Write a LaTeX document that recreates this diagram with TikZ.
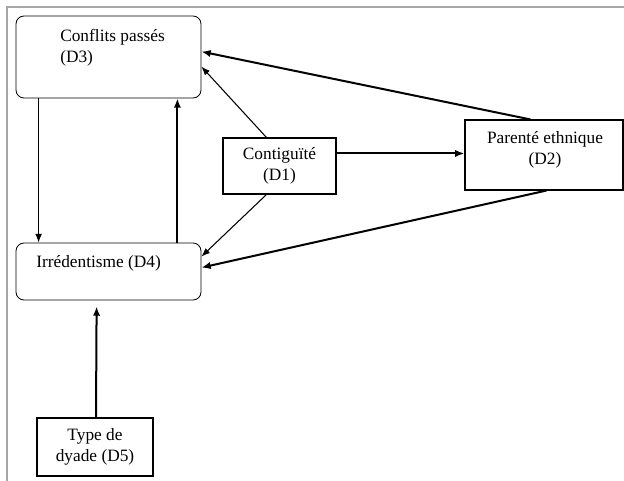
\documentclass[tikz,border=0pt]{standalone}
\usepackage{fontspec}
\newfontfamily\diagfont{Liberation Serif}
\usetikzlibrary{arrows.meta,calc,positioning}

\tikzset{
  roundbox/.style={draw,rounded corners=6pt,line width=0.6pt,inner sep=0pt},
  plainbox/.style={draw,line width=0.8pt,inner sep=0pt},
  thin arr/.style={-{Latex[length=6.5pt,width=5pt]},line width=0.8pt},
  thick arr/.style={-{Latex[length=7pt,width=5.5pt]},line width=1.5pt},
  boxtext/.style={inner sep=0pt,align=left}
}

\begin{document}
\begin{tikzpicture}[x=0.75pt,y=-0.75pt,font=\diagfont\fontsize{13}{15.75}\selectfont]
\useasboundingbox (0,0) rectangle (624,481);
\draw[gray!70,line width=1.5pt] (7,481) -- (7,7) -- (624,7);
% boxes
\node[roundbox,minimum width=138.75pt,minimum height=61.5pt] (d3) at (108.5,57) {};
\node[roundbox,minimum width=138.75pt,minimum height=42.75pt] (d4) at (108.5,271.5) {};
\node[plainbox,minimum width=84.75pt,minimum height=42pt,align=center] (d1) at (279.5,166) {Contiguïté\\(D1)};
\node[plainbox,minimum width=118.5pt,minimum height=52.5pt] (d2) at (544,155) {};
\node[plainbox,line width=1.5pt,minimum width=87pt,minimum height=43.5pt,align=center] (d5) at (95,447) {Type de\\dyade (D5)};
% texts
\node[boxtext,anchor=west] (d3txt) at (60,47.5) {Conflits passés\\(D3)};
\node[boxtext,anchor=west] (d4txt) at (36,263) {Irrédentisme (D4)};
\node[boxtext,align=center] (d2txt) at (545,149.5) {Parenté ethnique\\(D2)};
% links
\path
  ($(d3.south west)+(23,0)$) edge[thin arr] ($(d4.north west)+(23,0)$)
  ($(d4.north east)+(-24,0)$) edge[thick arr] ($(d3.south east)+(-24,0)$)
  ($(d1.north west)+(44,0)$) edge[thin arr] ($(d3.north east)+(0,51)$)
  ($(d1.south west)+(44,0)$) edge[thin arr] ($(d4.north east)+(0,14)$)
  ($(d1.north east)+(0,16)$) edge[thick arr] ($(d2.north west)+(0,34)$)
  ($(d2.north west)+(66,0)$) edge[thick arr] ($(d3.north east)+(0,36)$)
  ($(d2.south west)+(82,0)$) edge[thick arr] ($(d4.north east)+(0,25)$)
  ($(d5.north west)+(60,0)$) edge[thick arr] ($(d4.south west)+(81,6)$);
\end{tikzpicture}
\end{document}
